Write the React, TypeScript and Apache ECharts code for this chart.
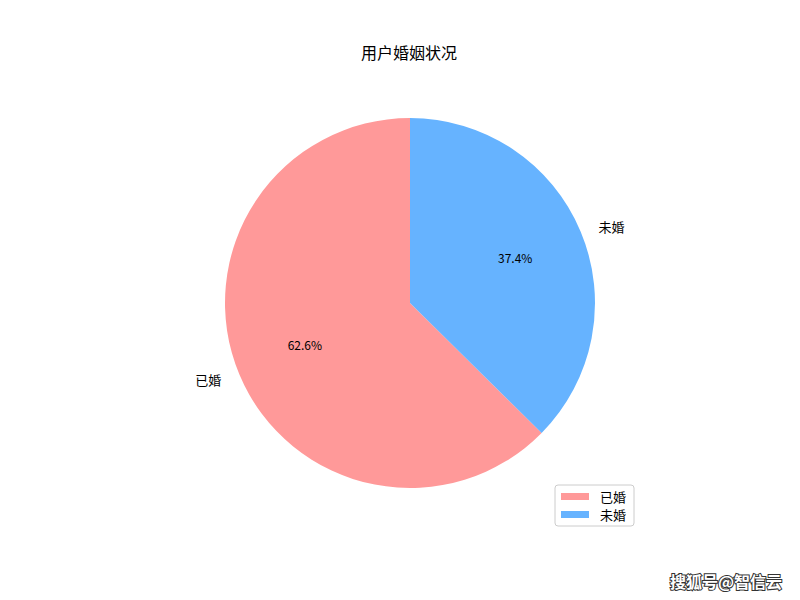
import React, { useEffect, useRef } from 'react';
import * as echarts from 'echarts';

// marital status of users
const categories = ['已婚', '未婚'];
const shares = [62.6, 37.4];
const colors = ['#ff9999', '#66b3ff'];

const FONT = '"Noto Sans CJK SC", "DejaVu Sans", sans-serif';

const App: React.FC = () => {
  const chartRef = useRef<HTMLDivElement>(null);

  useEffect(() => {
    const chart = echarts.init(chartRef.current!, null, { renderer: 'svg' });

    const pieData = categories.map((name, i) => ({
      name,
      value: shares[i],
      itemStyle: { color: colors[i] },
      // nudge the right hand label up a bit, echarts drops it a few px lower
      label: i === 1 ? { padding: [0, 0, 8, 0] } : {},
    }));

    const options = {
      animation: false,
      backgroundColor: '#fff',
      title: {
        text: '用户婚姻状况',
        left: 361,
        top: 44,
        padding: 0,
        textStyle: {
          fontFamily: FONT,
          fontSize: 16,
          fontWeight: 'normal',
          color: '#000',
        },
      },
      legend: {
        orient: 'vertical',
        right: 166,
        top: 485,
        data: categories,
        icon: 'rect',
        itemWidth: 28,
        itemHeight: 7,
        itemGap: 5,
        padding: [5, 8, 5, 6],
        borderColor: '#cccccc',
        borderWidth: 1,
        borderRadius: 3,
        selectedMode: false,
        textStyle: {
          fontFamily: FONT,
          fontSize: 13,
          color: '#000',
          padding: [0, 0, 0, 6],
        },
      },
      graphic: [
        {
          type: 'text',
          right: 17,
          bottom: 10,
          style: {
            text: '搜狐号@智信云',
            fontFamily: FONT,
            fontSize: 16,
            fontWeight: 'bold',
            fill: '#ffffff',
            stroke: '#333333',
            lineWidth: 2,
          },
        },
      ],
      series: [
        {
          // main wedges with name labels outside
          type: 'pie',
          center: [410, 303],
          radius: [0, 185],
          startAngle: 90,
          clockwise: false,
          silent: true,
          emphasis: { disabled: true },
          data: pieData,
          label: {
            show: true,
            position: 'outside',
            formatter: '{b}',
            fontFamily: FONT,
            fontSize: 13,
            color: '#000',
          },
          labelLine: { show: false, length: 14, length2: 0 },
        },
        {
          // transparent layer, only to put percent labels at 0.6 r
          type: 'pie',
          center: [410, 301],
          radius: [0, 222],
          startAngle: 90,
          clockwise: false,
          silent: true,
          percentPrecision: 1,
          emphasis: { disabled: true },
          data: categories.map((name, i) => ({ name, value: shares[i] })),
          itemStyle: { color: 'rgba(0,0,0,0)' },
          label: {
            show: true,
            position: 'inside',
            formatter: '{d}%',
            fontFamily: FONT,
            fontSize: 12,
            color: '#000',
          },
          labelLine: { show: false },
        },
      ],
    };

    chart.setOption(options);

    return () => {
      chart.dispose();
    };
  }, []);

  return (
    <div
      ref={chartRef}
      style={{ position: 'fixed', left: 0, top: 0, width: '800px', height: '600px' }}
    />
  );
};

export default App;
